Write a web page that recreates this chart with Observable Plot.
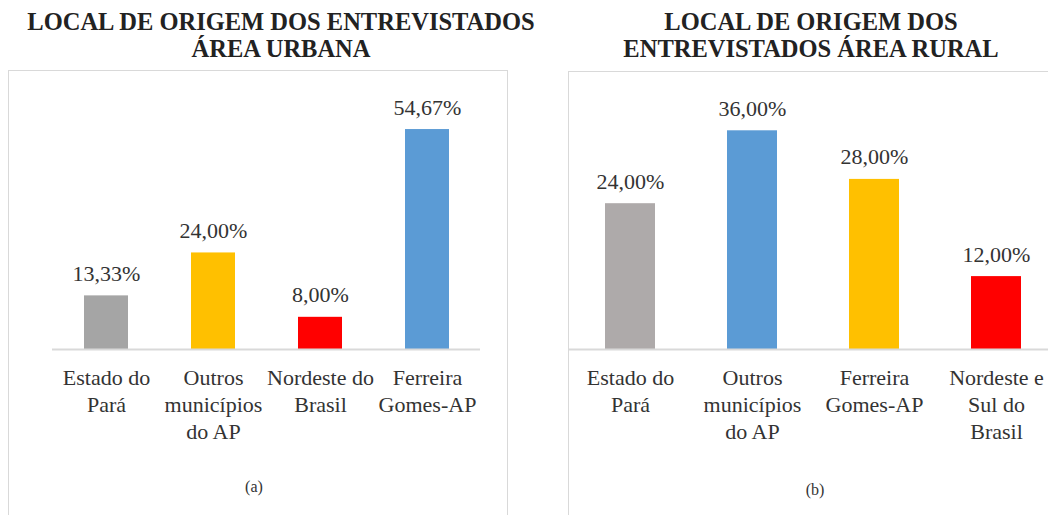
<!DOCTYPE html>
<html>
<head>
<meta charset="utf-8">
<script src="https://cdn.jsdelivr.net/npm/d3@7"></script>
<script src="https://cdn.jsdelivr.net/npm/@observablehq/plot@0.6"></script>
<style>
  html, body { margin: 0; padding: 0; background: #fff; width: 1048px; height: 515px; overflow: hidden; position: relative; }
  .title { position: absolute; font-family: "Liberation Serif", "Times New Roman", serif; font-weight: bold; font-size: 24.5px; line-height: 27px; color: #222; text-align: center; white-space: nowrap; transform: translateX(-50%); }
  .box { position: absolute; border: 1px solid #d9d9d9; box-sizing: border-box; }
  .plot { position: absolute; }
  .plot svg { max-width: none !important; }
  .plot svg text { font-family: "Liberation Serif", "Times New Roman", serif; }
  .cap { position: absolute; font-family: "Liberation Serif", "Times New Roman", serif; font-size: 16px; color: #333; transform: translate(-50%, -50%); }
</style>
</head>
<body>
<div class="title" style="left:281px; top:8px;">LOCAL DE ORIGEM DOS ENTREVISTADOS<br>ÁREA URBANA</div>
<div class="title" style="left:811px; top:8px;">LOCAL DE ORIGEM DOS<br>ENTREVISTADOS ÁREA RURAL</div>
<div class="box" style="left:8px; top:70px; width:500px; height:470px;"></div>
<div class="box" style="left:568px; top:71px; width:500px; height:470px;"></div>
<div class="plot" id="a" style="left:8px; top:70px; width:499px;"></div>
<div class="plot" id="b" style="left:568px; top:70px; width:490px;"></div>
<div class="cap" style="left:254px; top:487px;">(a)</div>
<div class="cap" style="left:815px; top:490px;">(b)</div>
<script>
// Data — panel (a) Área urbana
const catsA = ["Estado do Pará", "Outros municípios do AP", "Nordeste do Brasil", "Ferreira Gomes-AP"];
const valsA = [13.33, 24.00, 8.00, 54.67];
const labelsA = ["Estado do\nPará", "Outros\nmunicípios\ndo AP", "Nordeste do\nBrasil", "Ferreira\nGomes-AP"];

// Data — panel (b) Área rural
const catsB = ["Estado do Pará", "Outros municípios do AP", "Ferreira Gomes-AP", "Nordeste e Sul do Brasil"];
const valsB = [24.00, 36.00, 28.00, 12.00];
const labelsB = ["Estado do\nPará", "Outros\nmunicípios\ndo AP", "Ferreira\nGomes-AP", "Nordeste e\nSul do\nBrasil"];

// Styles
const colorsA = ["#a5a5a5", "#ffc000", "#ff0000", "#5b9bd5"];
const colorsB = ["#aeaaaa", "#5b9bd5", "#ffc000", "#ff0000"];
const serif = "'Liberation Serif', 'Times New Roman', serif";

const fmt = v => v.toFixed(2).replace(".", ",") + "%";

function chart(cats, vals, labels, colors, o) {
  const data = cats.map((c, i) => ({cat: c, v: vals[i], color: colors[i]}));
  return Plot.plot({
    width: o.width, height: o.height,
    marginLeft: o.ml, marginRight: o.mr, marginTop: o.mt, marginBottom: o.mb,
    style: {fontFamily: serif, background: "transparent", overflow: "visible", maxWidth: "none"},
    x: {domain: cats, paddingInner: 0.59, paddingOuter: 0.295},
    y: {domain: [0, o.ymax], axis: null},
    color: {type: "identity"},
    marks: [
      Plot.barY(data, {x: "cat", y: "v", fill: "color"}),
      Plot.ruleY([0], {stroke: "#d9d9d9", strokeWidth: 2}),
      Plot.text(data, {x: "cat", y: "v", text: d => fmt(d.v), dy: -22, fontSize: 22, fontFamily: serif, fill: "#333"}),
      Plot.axisX({tickSize: 0, tickPadding: 16, fontSize: 22, fontFamily: serif, lineHeight: 1.23, color: "#333",
        tickFormat: c => labels[cats.indexOf(c)], label: null})
    ]
  });
}

document.getElementById("a").append(chart(catsA, valsA, labelsA, colorsA,
  {width: 499, height: 445, ml: 44, mr: 27, mt: 37.6, mb: 166, ymax: 60}));
document.getElementById("b").append(chart(catsB, valsB, labelsB, colorsB,
  {width: 490, height: 445, ml: 0, mr: 0, mt: 36, mb: 166, ymax: 40}));
</script>
</body>
</html>
